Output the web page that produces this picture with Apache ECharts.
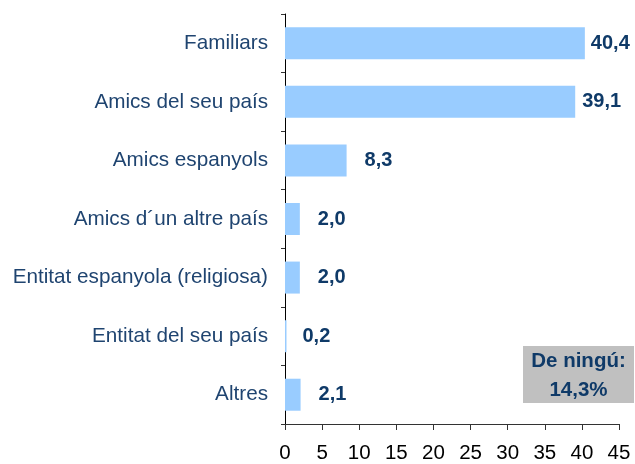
<!DOCTYPE html>
<html>
<head>
<meta charset="utf-8">
<script src="https://cdn.jsdelivr.net/npm/echarts@6/dist/echarts.min.js"></script>
<style>
  html, body { margin: 0; padding: 0; background: #fff; }
  #chart { width: 635px; height: 464px; }
</style>
</head>
<body>
<div id="chart"></div>
<script>
// Categories listed top to bottom
const categories = [
  'Familiars',
  'Amics del seu país',
  'Amics espanyols',
  'Amics d´un altre país',
  'Entitat espanyola (religiosa)',
  'Entitat del seu país',
  'Altres'
];
const values = [40.4, 39.1, 8.3, 2.0, 2.0, 0.2, 2.1];
const noneLabel = ['De ningú:', '14,3%'];

// Gap between bar end and its value label
const labelGaps = [6, 7, 18, 18, 18, 16, 18];

const fmt = v => v.toFixed(1).replace('.', ',');

const chart = echarts.init(document.getElementById('chart'), null, { renderer: 'canvas' });

const cats = categories.slice().reverse();
const vals = values.slice().reverse();
const gaps = labelGaps.slice().reverse();

chart.setOption({
  animation: false,
  backgroundColor: '#ffffff',
  grid: { left: 285, right: 16, top: 14, bottom: 37, containLabel: false },
  xAxis: {
    type: 'value',
    min: 0, max: 45, interval: 5,
    axisLine: { show: true, lineStyle: { color: '#333', width: 1 } },
    axisTick: { show: true, length: 6, lineStyle: { color: '#333' } },
    axisLabel: { color: '#000', fontFamily: 'Liberation Sans', fontSize: 20.5, margin: 19 },
    splitLine: { show: false }
  },
  yAxis: {
    type: 'category',
    data: cats,
    axisLine: { show: true, lineStyle: { color: '#000', width: 1 } },
    axisTick: { show: true, length: 4, lineStyle: { color: '#333' } },
    axisLabel: { color: '#1F4470', fontFamily: 'Liberation Sans', fontSize: 20.7, margin: 17 }
  },
  series: [{
    type: 'bar',
    barWidth: 32,
    itemStyle: { color: '#99CCFF' },
    data: vals.map((v, i) => ({
      value: v,
      label: {
        show: true,
        position: 'right',
        distance: gaps[i],
        formatter: p => fmt(p.value),
        color: '#0F3A68',
        fontFamily: 'Liberation Sans',
        fontWeight: 'bold',
        fontSize: 20
      }
    }))
  }],
  graphic: [{
    type: 'group',
    left: 523, top: 346,
    children: [
      { type: 'rect', shape: { x: 0, y: 0, width: 111, height: 57 }, style: { fill: '#C0C0C0' } },
      { type: 'text', x: 55.5, y: 15, style: { text: noneLabel[0], fill: '#0F3A68', font: 'bold 20.5px "Liberation Sans"', align: 'center', verticalAlign: 'middle' } },
      { type: 'text', x: 55.5, y: 44, style: { text: noneLabel[1], fill: '#0F3A68', font: 'bold 20.5px "Liberation Sans"', align: 'center', verticalAlign: 'middle' } }
    ]
  }]
});
</script>
</body>
</html>
